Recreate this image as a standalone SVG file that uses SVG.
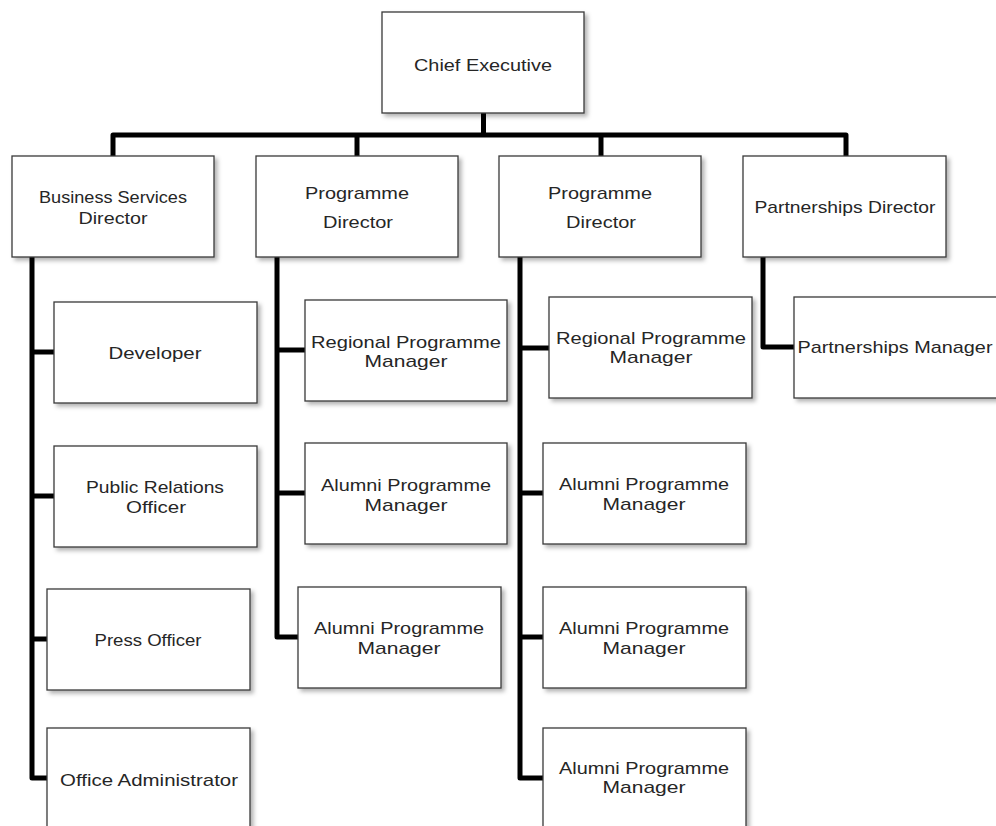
<svg xmlns="http://www.w3.org/2000/svg" width="996" height="826" viewBox="0 0 996 826">
<style>
.box{fill:#fff;stroke:#3a3a3a;stroke-width:1.3;filter:url(#sh)}
.lbl{font-family:"Liberation Sans",Arial,sans-serif;font-size:17px;fill:#262626;text-anchor:middle}
.con{fill:none;stroke:#000;stroke-width:5;stroke-linejoin:round;stroke-linecap:butt}
</style>
<defs>
<filter id="sh" x="-10%" y="-10%" width="130%" height="140%">
<feDropShadow dx="3" dy="3" stdDeviation="2" flood-color="#000" flood-opacity="0.3"/>
</filter>
</defs>
<rect width="996" height="826" fill="#fff"/>
<g id="connectors" class="con">
<path d="M483.5 113 V135"/>
<path d="M113 156 V135 H846 V156"/>
<path d="M357 135 V156"/>
<path d="M601 135 V156"/>
<path d="M32 257 V778 H47"/>
<path d="M32 352 H54"/>
<path d="M32 496 H54"/>
<path d="M32 639 H47"/>
<path d="M277 257 V637 H298"/>
<path d="M277 350 H305"/>
<path d="M277 493 H305"/>
<path d="M520 257 V778 H543"/>
<path d="M520 348 H549"/>
<path d="M520 493 H543"/>
<path d="M520 637 H543"/>
<path d="M763 257 V347 H794"/>
</g>
<g id="chief-executive"><rect class="box" x="382" y="12" width="202" height="101"/><text class="lbl" x="483" y="71" textLength="138" lengthAdjust="spacingAndGlyphs">Chief Executive</text></g>
<g id="business-services-director"><rect class="box" x="12" y="156" width="202" height="101"/><text class="lbl" x="113" y="203" textLength="148" lengthAdjust="spacingAndGlyphs">Business Services</text><text class="lbl" x="113" y="224" textLength="69" lengthAdjust="spacingAndGlyphs">Director</text></g>
<g id="programme-director-1"><rect class="box" x="256" y="156" width="202" height="101"/><text class="lbl" x="357" y="199" textLength="104" lengthAdjust="spacingAndGlyphs">Programme</text><text class="lbl" x="358" y="228" textLength="70" lengthAdjust="spacingAndGlyphs">Director</text></g>
<g id="programme-director-2"><rect class="box" x="499" y="156" width="202" height="101"/><text class="lbl" x="600" y="199" textLength="104" lengthAdjust="spacingAndGlyphs">Programme</text><text class="lbl" x="601" y="228" textLength="70" lengthAdjust="spacingAndGlyphs">Director</text></g>
<g id="partnerships-director"><rect class="box" x="743" y="156" width="203" height="101"/><text class="lbl" x="845" y="213" textLength="181" lengthAdjust="spacingAndGlyphs">Partnerships Director</text></g>
<g id="developer"><rect class="box" x="54" y="302" width="203" height="101"/><text class="lbl" x="155" y="359" textLength="93" lengthAdjust="spacingAndGlyphs">Developer</text></g>
<g id="public-relations-officer"><rect class="box" x="54" y="446" width="203" height="101"/><text class="lbl" x="155" y="493" textLength="138" lengthAdjust="spacingAndGlyphs">Public Relations</text><text class="lbl" x="156" y="513" textLength="60" lengthAdjust="spacingAndGlyphs">Officer</text></g>
<g id="press-officer"><rect class="box" x="47" y="589" width="203" height="101"/><text class="lbl" x="148" y="646" textLength="107" lengthAdjust="spacingAndGlyphs">Press Officer</text></g>
<g id="office-administrator"><rect class="box" x="47" y="728" width="203" height="101"/><text class="lbl" x="149" y="786" textLength="178" lengthAdjust="spacingAndGlyphs">Office Administrator</text></g>
<g id="regional-programme-manager-1"><rect class="box" x="305" y="300" width="202" height="101"/><text class="lbl" x="406" y="348" textLength="190" lengthAdjust="spacingAndGlyphs">Regional Programme</text><text class="lbl" x="406" y="367" textLength="83" lengthAdjust="spacingAndGlyphs">Manager</text></g>
<g id="alumni-programme-manager-1"><rect class="box" x="305" y="443" width="202" height="101"/><text class="lbl" x="406" y="491" textLength="170" lengthAdjust="spacingAndGlyphs">Alumni Programme</text><text class="lbl" x="406" y="511" textLength="83" lengthAdjust="spacingAndGlyphs">Manager</text></g>
<g id="alumni-programme-manager-2"><rect class="box" x="298" y="587" width="203" height="101"/><text class="lbl" x="399" y="634" textLength="170" lengthAdjust="spacingAndGlyphs">Alumni Programme</text><text class="lbl" x="399" y="654" textLength="83" lengthAdjust="spacingAndGlyphs">Manager</text></g>
<g id="regional-programme-manager-2"><rect class="box" x="549" y="297" width="203" height="101"/><text class="lbl" x="651" y="344" textLength="190" lengthAdjust="spacingAndGlyphs">Regional Programme</text><text class="lbl" x="651" y="363" textLength="83" lengthAdjust="spacingAndGlyphs">Manager</text></g>
<g id="alumni-programme-manager-3"><rect class="box" x="543" y="443" width="203" height="101"/><text class="lbl" x="644" y="490" textLength="170" lengthAdjust="spacingAndGlyphs">Alumni Programme</text><text class="lbl" x="644" y="510" textLength="83" lengthAdjust="spacingAndGlyphs">Manager</text></g>
<g id="alumni-programme-manager-4"><rect class="box" x="543" y="587" width="203" height="101"/><text class="lbl" x="644" y="634" textLength="170" lengthAdjust="spacingAndGlyphs">Alumni Programme</text><text class="lbl" x="644" y="654" textLength="83" lengthAdjust="spacingAndGlyphs">Manager</text></g>
<g id="alumni-programme-manager-5"><rect class="box" x="543" y="728" width="203" height="101"/><text class="lbl" x="644" y="774" textLength="170" lengthAdjust="spacingAndGlyphs">Alumni Programme</text><text class="lbl" x="644" y="793" textLength="83" lengthAdjust="spacingAndGlyphs">Manager</text></g>
<g id="partnerships-manager"><rect class="box" x="794" y="297" width="210" height="101"/><text class="lbl" x="895" y="353" textLength="195" lengthAdjust="spacingAndGlyphs">Partnerships Manager</text></g>
</svg>
